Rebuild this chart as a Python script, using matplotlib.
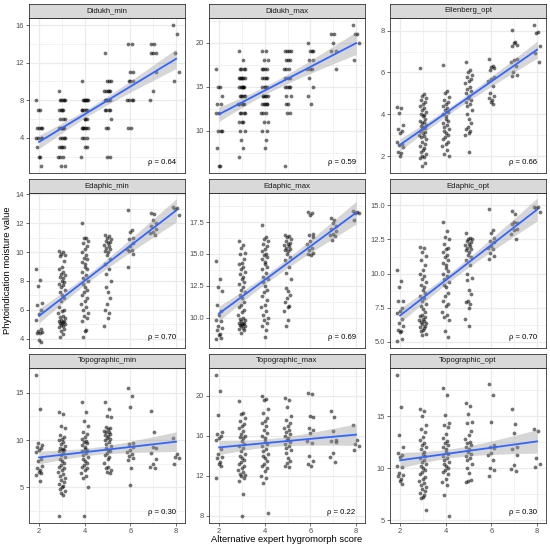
"""
Facet grid: phytoindication moisture values against the alternative
expert hygromorph score, one panel per index.
"""

import numpy as np
import matplotlib
import matplotlib.pyplot as plt
from matplotlib.ticker import MultipleLocator, FixedLocator, FormatStrFormatter

matplotlib.use("Agg")
plt.rcParams["font.family"] = ["Liberation Sans", "DejaVu Sans"]

# values per expert hygromorph score
didukh_min = {
    2: [8, 7, 7, 5, 5, 5, 5, 4, 4, 4, 4, 3, 2, 2, 1],
    3: [9, 8, 8, 8, 8, 8, 7, 7, 7, 7, 6, 6, 6, 5, 5, 5, 5, 5, 4, 4, 4, 4,
        3, 3, 3, 3, 2, 2, 2, 1, 1],
    4: [10, 8, 8, 8, 8, 8, 8, 7, 7, 7, 7, 7, 6, 6, 6, 5, 5, 5, 5, 5, 5, 4,
        4, 4, 3, 3, 2],
    5: [13, 10, 10, 10, 9, 9, 9, 9, 9, 8, 8, 8, 8, 8, 7, 7, 7, 7, 6, 5, 5, 2, 2],
    6: [14, 14, 11, 11, 10, 10, 10, 8, 8, 8, 8, 5, 5],
    7: [14, 14, 13, 13, 13, 11, 9, 8],
    8: [16, 15, 13, 11, 10],
}
didukh_max = {
    2: [17, 15, 15, 14, 13, 13, 12, 12, 10, 10, 10, 8, 6, 6],
    3: [19, 18, 17, 17, 17, 17, 16, 16, 16, 16, 16, 16, 15, 15, 15, 15, 15,
        15, 14, 14, 14, 14, 14, 13, 13, 13, 13, 13, 12, 12, 12, 12, 11, 11,
        11, 10, 10, 9, 8, 7],
    4: [19, 19, 18, 18, 17, 17, 17, 17, 16, 16, 16, 16, 15, 15, 15, 15, 14,
        14, 14, 14, 14, 13, 13, 13, 13, 13, 12, 12, 12, 11, 11, 10, 10, 9, 8],
    5: [19, 19, 19, 19, 18, 18, 18, 17, 17, 17, 16, 16, 16, 15, 15, 15, 15,
        14, 14, 13, 13, 12, 12, 6],
    6: [20, 19, 19, 19, 18, 18, 17, 17, 17, 16, 15, 14, 13],
    7: [21, 21, 20, 19, 19, 17],
    8: [22, 21, 21, 20, 18],
}
ellenberg_opt = {
    2: [4.37, 4.3, 4.05, 3.5, 3.3, 3.2, 3.1, 2.7, 2.6, 2.55, 2.45, 2.2, 2.15, 2.0],
    3: [6.22, 4.95, 4.9, 4.8, 4.7, 4.6, 4.5, 4.4, 4.3, 4.2, 4.1, 4.0, 3.95,
        3.9, 3.8, 3.7, 3.65, 3.6, 3.5, 3.45, 3.4, 3.35, 3.3, 3.2, 3.15, 3.1,
        3.0, 2.95, 2.9, 2.8, 2.7, 2.6, 2.5, 2.4, 2.3, 2.2, 2.1, 2.0, 1.95,
        1.9, 1.7, 1.55],
    4: [6.38, 5.1, 5.0, 4.85, 4.7, 4.6, 4.5, 4.4, 4.3, 4.2, 4.1, 4.0, 3.9,
        3.8, 3.7, 3.6, 3.5, 3.4, 3.3, 3.2, 3.1, 3.0, 2.9, 2.8, 2.7, 2.6, 2.5,
        2.3, 2.1, 2.0],
    5: [6.52, 6.1, 6.0, 5.9, 5.8, 5.7, 5.6, 5.5, 5.3, 5.2, 5.1, 5.0, 4.9,
        4.8, 4.7, 4.6, 4.5, 4.4, 4.2, 4.0, 3.8, 3.6, 3.4, 3.3, 3.2, 3.1, 3.0,
        2.2],
    6: [6.65, 6.3, 6.25, 6.2, 6.1, 5.8, 5.7, 5.6, 5.35, 5.0, 4.9, 4.8, 4.7,
        4.6, 4.5],
    7: [8.05, 7.45, 7.4, 7.3, 7.25, 6.65, 6.6, 6.5, 6.3, 6.0, 5.9, 5.85],
    8: [8.25, 7.95, 7.9, 7.25, 6.95, 6.5],
}
edaphic_min = {
    2: [8.85, 8.1, 7.65, 6.5, 6.35, 6.0, 5.7, 5.3, 4.65, 4.5, 4.45, 4.4,
        4.4, 3.9, 3.8],
    3: [10.05, 10.0, 9.9, 9.8, 9.7, 9.4, 9.0, 8.8, 8.6, 8.5, 8.4, 8.3, 8.2,
        8.0, 7.9, 7.8, 7.7, 7.6, 7.4, 7.2, 7.0, 6.8, 6.6, 6.2, 6.0, 5.9, 5.8,
        5.6, 5.5, 5.4, 5.3, 5.25, 5.2, 5.15, 5.1, 5.05, 5.0, 4.95, 4.9, 4.8,
        4.7, 4.5, 4.3, 4.1],
    4: [12.05, 11.0, 10.95, 10.8, 10.6, 10.4, 10.2, 10.0, 9.8, 9.6, 9.5,
        9.3, 9.2, 9.0, 8.8, 8.6, 8.4, 8.2, 8.0, 7.8, 7.6, 7.4, 7.2, 7.0, 6.8,
        6.6, 6.4, 6.2, 6.0, 5.8, 5.6, 5.4, 5.2, 4.6, 4.5, 4.1],
    5: [11.2, 11.1, 11.0, 10.9, 10.8, 10.7, 10.6, 10.5, 10.4, 10.3, 10.2,
        10.1, 10.0, 9.8, 9.5, 9.2, 8.8, 8.5, 8.0, 7.6, 7.2, 6.8, 6.4, 6.0,
        5.8, 5.4, 4.85],
    6: [12.95, 11.5, 11.4, 11.0, 10.9, 10.6, 10.4, 10.2, 10.15, 10.1, 9.85, 9.0],
    7: [12.7, 12.65, 12.2, 12.0, 11.8, 11.6, 11.4, 11.3, 11.2],
    8: [13.15, 13.05, 13.0, 12.55],
}
edaphic_max = {
    2: [14.47, 13.0, 12.4, 12.1, 11.0, 10.5, 10.2, 9.8, 9.7, 9.35, 9.2,
        9.05, 8.7, 8.65, 8.4, 8.3],
    3: [16.05, 15.7, 15.5, 15.1, 15.0, 14.6, 14.3, 14.2, 14.0, 13.8, 13.6,
        13.4, 13.2, 13.0, 12.8, 12.6, 12.4, 12.2, 12.0, 11.8, 11.5, 11.2,
        11.0, 10.8, 10.6, 10.4, 10.2, 10.0, 9.9, 9.8, 9.7, 9.6, 9.55, 9.5,
        9.45, 9.4, 9.35, 9.3, 9.2, 9.1, 9.0, 8.8],
    4: [17.3, 16.3, 16.2, 16.0, 15.8, 15.6, 15.4, 15.2, 15.0, 14.9, 14.8,
        14.6, 14.4, 14.2, 14.0, 13.8, 13.5, 13.2, 13.0, 12.8, 12.5, 12.2,
        12.0, 11.7, 11.4, 11.0, 10.8, 10.5, 10.2, 10.0, 9.8, 9.6, 9.3, 9.0, 8.5],
    5: [16.5, 16.4, 16.3, 16.2, 16.0, 15.9, 15.8, 15.7, 15.6, 15.5, 15.4,
        15.3, 15.2, 15.0, 14.8, 14.5, 14.0, 13.5, 13.0, 12.3, 12.1, 11.8,
        11.5, 11.2, 10.9, 10.8, 10.5, 9.8, 9.3],
    6: [18.3, 18.2, 18.1, 16.6, 16.5, 16.3, 16.0, 15.8, 15.5, 15.3, 15.1,
        15.0, 14.9],
    7: [17.8, 17.7, 17.4, 17.2, 17.0, 16.8, 16.6, 16.5, 16.4, 16.1],
    8: [18.4, 18.3, 18.25, 18.2, 17.7],
}
edaphic_opt = {
    2: [10.3, 9.45, 9.0, 8.0, 8.0, 7.5, 7.3, 7.1, 6.7, 6.4, 6.2, 5.9, 5.8,
        5.75, 5.2, 5.1],
    3: [11.95, 11.9, 11.6, 11.3, 11.0, 10.6, 10.3, 10.0, 9.8, 9.6, 9.4, 9.2,
        9.0, 8.8, 8.6, 8.4, 8.2, 8.0, 7.8, 7.6, 7.4, 7.2, 7.0, 6.9, 6.8, 6.7,
        6.6, 6.5, 6.45, 6.4, 6.3, 6.2, 6.1, 6.0, 5.9, 5.8, 5.6, 5.5],
    4: [13.75, 13.1, 12.7, 12.5, 12.2, 11.9, 11.8, 11.6, 11.4, 11.2, 11.0,
        10.8, 10.6, 10.4, 10.2, 10.0, 9.8, 9.6, 9.4, 9.2, 9.0, 8.6, 8.4, 8.0,
        7.8, 7.6, 7.2, 7.0, 6.8, 6.6, 5.8, 5.4],
    5: [12.95, 12.6, 12.55, 12.5, 12.4, 12.3, 12.2, 12.1, 12.0, 11.9, 11.8,
        11.7, 11.6, 11.4, 11.2, 11.0, 10.6, 10.0, 9.7, 9.5, 8.8, 8.5, 8.0,
        7.9, 7.8, 7.5, 6.7, 6.15],
    6: [14.7, 13.2, 13.0, 12.6, 12.4, 12.3, 12.0, 11.9, 11.8, 11.5, 11.3, 11.1],
    7: [14.55, 14.4, 13.8, 13.7, 13.6, 13.3, 13.2, 12.9, 12.55],
    8: [14.9, 14.85, 14.8, 14.5],
}
topographic_min = {
    2: [16.86, 13.25, 9.65, 9.5, 9.3, 9.2, 9.0, 8.7, 8.0, 7.8, 7.3, 7.0,
        6.8, 6.6, 6.5, 6.3, 5.7],
    3: [13.0, 12.7, 11.5, 11.3, 10.5, 10.3, 10.1, 10.0, 9.8, 9.6, 9.4, 9.2,
        9.1, 9.0, 8.9, 8.8, 8.6, 8.4, 8.2, 8.0, 7.8, 7.6, 7.4, 7.2, 7.0, 6.8,
        6.6, 6.4, 6.2, 6.0, 5.8, 5.6, 5.4, 5.2, 5.0, 4.8, 4.6, 4.4, 4.2, 2.0],
    4: [14.0, 13.0, 12.0, 11.5, 10.8, 10.6, 10.3, 10.1, 9.9, 9.8, 9.7, 9.5,
        9.3, 9.1, 9.0, 8.8, 8.6, 8.4, 8.2, 8.0, 7.8, 7.6, 7.4, 7.2, 7.0, 6.8,
        6.5, 6.2, 6.0, 5.0, 2.0],
    5: [14.0, 13.3, 12.5, 12.45, 11.4, 11.3, 11.2, 11.0, 10.9, 10.8, 10.6,
        10.5, 10.4, 10.2, 10.1, 10.0, 9.8, 9.6, 9.4, 9.2, 9.0, 8.8, 8.6, 8.4,
        8.2, 8.0, 7.6, 7.2, 7.0, 6.8, 6.6, 6.5],
    6: [15.5, 14.65, 13.5, 9.7, 9.6, 9.3, 9.0, 8.7, 8.5, 8.3, 8.1, 7.9, 7.0, 5.3],
    7: [13.1, 10.85, 9.3, 9.2, 8.6, 8.0, 7.5, 7.2, 7.1],
    8: [10.2, 8.5, 8.2, 8.1, 7.5],
}
topographic_max = {
    2: [22.09, 20.5, 18.1, 16.4, 16.2, 16.0, 15.8, 15.6, 14.7, 14.2, 13.9,
        13.8, 13.4, 13.2, 13.0, 11.8],
    3: [19.5, 18.3, 18.2, 17.8, 17.5, 17.2, 17.0, 16.8, 16.5, 16.2, 16.0,
        15.9, 15.8, 15.5, 15.2, 15.0, 14.8, 14.5, 14.2, 14.0, 13.8, 13.6,
        13.4, 13.2, 13.0, 12.8, 12.6, 12.4, 12.2, 12.1, 12.0, 11.8, 11.5,
        10.2, 8.0],
    4: [20.0, 19.7, 19.6, 18.7, 18.3, 17.8, 17.5, 17.3, 17.0, 16.6, 16.3,
        16.0, 15.8, 15.5, 15.2, 15.0, 14.7, 14.5, 14.2, 14.0, 13.8, 13.5,
        13.2, 13.0, 12.8, 12.5, 12.0, 11.8, 11.3, 8.3],
    5: [19.8, 19.6, 18.9, 18.0, 17.6, 17.3, 17.0, 16.8, 16.6, 16.4, 16.2,
        16.0, 15.8, 15.6, 15.4, 15.2, 15.0, 14.8, 14.6, 14.3, 13.8, 13.5,
        13.3, 13.0, 12.9],
    6: [20.3, 20.2, 18.0, 17.9, 16.8, 16.6, 16.3, 15.5, 15.3, 14.0, 13.5,
        13.2, 13.0],
    7: [18.5, 17.9, 16.5, 15.6, 15.5, 15.4, 14.3, 13.9, 13.4],
    8: [17.1, 15.6, 15.2, 15.0, 14.6],
}
topographic_opt = {
    2: [18.9, 15.83, 13.2, 12.0, 11.5, 11.3, 11.1, 10.2, 10.15, 9.5, 9.35,
        9.3, 9.0, 8.8, 8.5],
    3: [15.7, 15.5, 15.0, 14.1, 13.8, 13.5, 13.0, 12.7, 12.4, 12.2, 12.0,
        11.8, 11.6, 11.4, 11.2, 11.0, 10.8, 10.6, 10.4, 10.2, 10.0, 9.8, 9.6,
        9.4, 9.2, 9.0, 8.8, 8.6, 8.4, 8.2, 8.0, 7.8, 7.6, 7.4, 7.2, 7.1, 6.0],
    4: [17.7, 17.0, 15.1, 14.3, 14.1, 13.9, 13.3, 12.9, 12.6, 12.4, 12.2,
        12.0, 11.8, 11.6, 11.4, 11.2, 11.0, 10.8, 10.6, 10.4, 10.2, 10.0, 9.8,
        9.6, 9.4, 9.0, 8.7, 8.4, 7.4, 5.4],
    5: [16.2, 16.0, 15.2, 14.4, 14.3, 13.6, 13.2, 12.8, 12.5, 12.4, 12.2,
        12.0, 11.8, 11.6, 11.4, 11.2, 11.0, 10.8, 10.4, 10.0, 9.5, 8.9, 8.8, 8.7],
    6: [18.1, 17.0, 14.4, 12.2, 12.0, 11.9, 11.5, 11.3, 10.8, 10.0, 9.8, 9.3],
    7: [15.7, 14.2, 13.4, 12.0, 11.8, 11.3, 10.3, 9.9, 9.7],
    8: [13.8, 13.6, 11.0, 10.4, 10.1],
}

# horizontal jitter of the points around their score
jitter = [-0.12, 0.05, -0.03, 0.13, -0.08, 0.10, 0.00, -0.14, 0.07, -0.05,
          0.12, -0.10, 0.03, -0.01, 0.09, -0.13, 0.06, -0.06, 0.14, -0.09,
          0.02, 0.11, -0.04, -0.11, 0.08, 0.01, -0.15, 0.04, -0.07, 0.13,
          -0.02, 0.10, -0.12, 0.06, 0.00, -0.08, 0.12, -0.05, 0.03, -0.14,
          0.09, -0.03, 0.05, -0.10, 0.14, -0.06, 0.02, -0.11]

titles = ["Didukh_min", "Didukh_max", "Ellenberg_opt",
          "Edaphic_min", "Edaphic_max", "Edaphic_opt",
          "Topographic_min", "Topographic_max", "Topographic_opt"]
datasets = [didukh_min, didukh_max, ellenberg_opt,
            edaphic_min, edaphic_max, edaphic_opt,
            topographic_min, topographic_max, topographic_opt]
rho_labels = ["ρ = 0.64", "ρ = 0.59", "ρ = 0.66",
              "ρ = 0.70", "ρ = 0.69", "ρ = 0.70",
              "ρ = 0.30", "ρ = 0.22", "ρ = 0.30"]
y_ticks = [[4, 8, 12, 16], [10, 15, 20], [2, 4, 6, 8],
           [4, 6, 8, 10, 12, 14], [10.0, 12.5, 15.0, 17.5],
           [5.0, 7.5, 10.0, 12.5, 15.0],
           [5, 10, 15], [8, 12, 16, 20], [5, 10, 15]]
x_ticks = [2, 4, 6, 8]

# axis ranges of each panel
y_limits = [(0.25, 16.75), (5.2, 22.8), (1.2, 8.6),
            (3.35, 14.1), (7.6, 19.8), (4.56, 15.9),
            (1.25, 17.6), (7.3, 22.8), (4.75, 19.6)]
x_limits = (1.56, 8.39)

W, H = 550, 549
col_left = [29, 209, 390]
row_top = [18, 193, 368]
panel_w, panel_h, strip_h = 156, 155, 14

GRID = "#EBEBEB"
BORDER = "#333333"
FS = 5.4


def flatten(groups):
    score, xj, y = [], [], []
    for s, values in groups.items():
        for i, v in enumerate(values):
            score.append(s)
            xj.append(s + jitter[i])
            y.append(v)
    return np.array(score, float), np.array(xj), np.array(y, float)


def lm_band(x, y):
    """Linear fit with a 95 % confidence ribbon, as geom_smooth(method='lm')"""
    slope, icept = np.polyfit(x, y, 1)
    xx = np.linspace(x.min(), x.max(), 80)
    fit = icept + slope * xx
    n = len(x)
    resid = y - (icept + slope * x)
    s = np.sqrt(np.sum(resid ** 2) / (n - 2))
    sxx = np.sum((x - x.mean()) ** 2)
    se = s * np.sqrt(1 / n + (xx - x.mean()) ** 2 / sxx)
    return xx, fit, 1.97 * se


fig = plt.figure(figsize=(W / 100, H / 100), dpi=100)

for k, (title, groups) in enumerate(zip(titles, datasets)):
    r, c = divmod(k, 3)
    left = col_left[c] / W
    bottom = 1 - (row_top[r] + panel_h) / H
    ax = fig.add_axes([left, bottom, panel_w / W, panel_h / H])
    sax = fig.add_axes([left, 1 - row_top[r] / H, panel_w / W, strip_h / H])

    score, xj, y = flatten(groups)
    xx, fit, half = lm_band(score, y)

    ax.scatter(xj, y, s=7.5, c="black", alpha=0.55, linewidths=0, zorder=2)
    ax.fill_between(xx, fit - half, fit + half, color="#999999", alpha=0.4,
                    linewidth=0, zorder=3)
    ax.plot(xx, fit, color="#3366FF", lw=1.3, zorder=4)

    ax.set_xlim(*x_limits)
    ax.set_ylim(*y_limits[k])
    ax.xaxis.set_major_locator(FixedLocator(x_ticks))
    ax.xaxis.set_minor_locator(MultipleLocator(1))
    ax.yaxis.set_major_locator(FixedLocator(y_ticks[k]))
    step = y_ticks[k][1] - y_ticks[k][0]
    ax.yaxis.set_minor_locator(MultipleLocator(step / 2))
    if k in (4, 5):
        ax.yaxis.set_major_formatter(FormatStrFormatter("%.1f"))

    ax.set_axisbelow(True)
    ax.grid(which="major", color=GRID, lw=0.9)
    ax.grid(which="minor", color=GRID, lw=0.45)
    ax.tick_params(which="minor", length=0)
    ax.tick_params(which="major", length=2, width=0.5, color=BORDER,
                   labelsize=FS, labelcolor="#4D4D4D", pad=1.5)
    if r < 2:
        ax.tick_params(axis="x", which="both", bottom=False, labelbottom=False)
    for sp in ax.spines.values():
        sp.set_color(BORDER)
        sp.set_linewidth(0.6)

    ax.text(0.94, 0.07, rho_labels[k], transform=ax.transAxes,
            ha="right", va="center", fontsize=5.6, color="black")

    sax.set_facecolor("#D9D9D9")
    sax.set_xticks([])
    sax.set_yticks([])
    for sp in sax.spines.values():
        sp.set_color(BORDER)
        sp.set_linewidth(0.6)
    sax.text(0.5, 0.5, title, ha="center", va="center", fontsize=5.6,
             color="#1A1A1A", transform=sax.transAxes)

fig.text(8 / W, 1 - 270 / H, "Phytoindication moisture value", rotation=90,
         ha="center", va="center", fontsize=6.75)
fig.text(287 / W, 1 - 540 / H, "Alternative expert hygromorph score",
         ha="center", va="center", fontsize=6.75)

fig.savefig("out.png", dpi=100)
